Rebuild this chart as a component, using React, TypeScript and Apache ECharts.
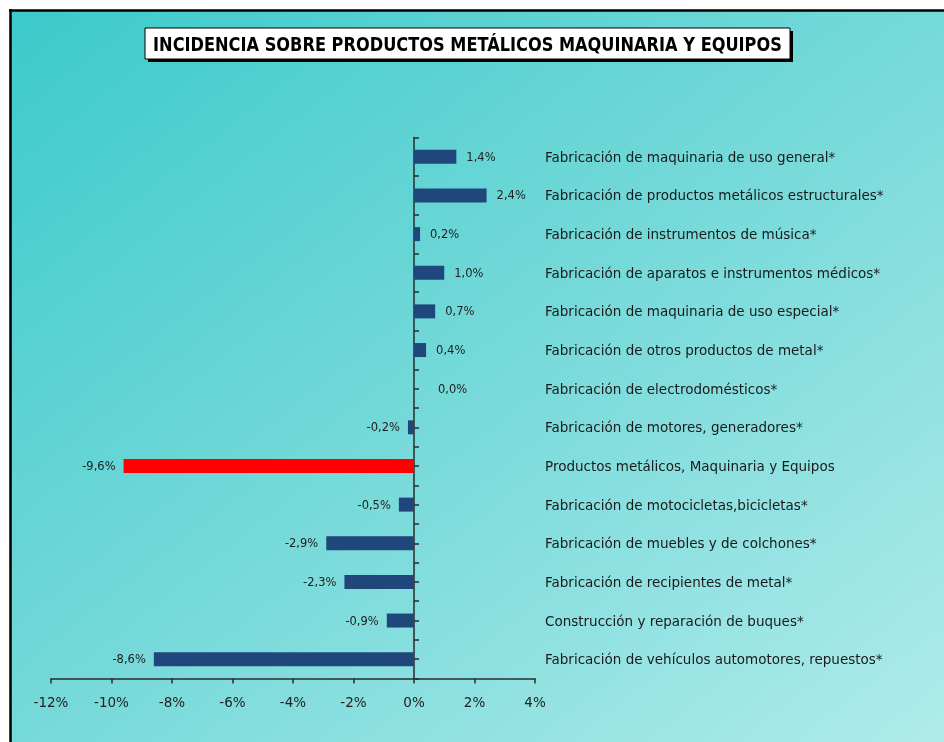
import React, { useEffect, useRef } from "react";
import * as echarts from "echarts";

const TITLE = "INCIDENCIA SOBRE PRODUCTOS METÁLICOS MAQUINARIA Y EQUIPOS";

const categories = [
  "Fabricación de maquinaria de uso general*",
  "Fabricación de productos metálicos estructurales*",
  "Fabricación de instrumentos de música*",
  "Fabricación de aparatos e instrumentos médicos*",
  "Fabricación de maquinaria de uso especial*",
  "Fabricación de otros productos de metal*",
  "Fabricación de electrodomésticos*",
  "Fabricación de motores, generadores*",
  "Productos metálicos, Maquinaria y Equipos",
  "Fabricación de motocicletas,bicicletas*",
  "Fabricación de muebles y de colchones*",
  "Fabricación de recipientes de metal*",
  "Construcción y reparación de buques*",
  "Fabricación de vehículos automotores, repuestos*",
];

const values = [1.4, 2.4, 0.2, 1.0, 0.7, 0.4, 0.0, -0.2, -9.6, -0.5, -2.9, -2.3, -0.9, -8.6];

const highlightCategory = "Productos metálicos, Maquinaria y Equipos";

const xMin = -12;
const xMax = 4;
const xInterval = 2;

const GRID_LEFT = 51;
const GRID_WIDTH = 484;
const GRID_TOP = 137.5;
const GRID_HEIGHT = 541;

const BAR_COLOR = "#1f477b";
const HIGHLIGHT_COLOR = "#ff0000";
const AXIS_COLOR = "#2b2b2b";
const FONT = "DejaVu Sans, Verdana, sans-serif";

const fmt = (v: number) => v.toFixed(1).replace(".", ",") + "%";

export default function App() {
  const ref = useRef<HTMLDivElement>(null);

  useEffect(() => {
    if (!ref.current) return;
    const chart = echarts.init(ref.current, null, { renderer: "svg" });
    const zeroOffset = ((0 - xMin) / (xMax - xMin)) * GRID_WIDTH;

    const seriesData = values.map((v, i) => ({
      value: v,
      itemStyle: { color: categories[i] === highlightCategory ? HIGHLIGHT_COLOR : BAR_COLOR },
      label: {
        position: v < 0 ? "left" : "right",
        distance: v === 0 ? 24 : v < 0 ? 8 : 10,
      },
    }));

    chart.setOption({
      animation: false,
      graphic: [
        {
          type: "rect",
          silent: true,
          z: -10,
          shape: { x: 10, y: 10, width: 934, height: 732 },
          style: {
            fill: new echarts.graphic.LinearGradient(0, 0, 1, 1, [
              { offset: 0, color: "#3ccaca" },
              { offset: 0.5, color: "#76d9d9" },
              { offset: 1, color: "#b0ebeb" },
            ]),
          },
        },
        {
          type: "line",
          silent: true,
          z: -9,
          shape: { x1: 9, y1: 10.5, x2: 944, y2: 10.5 },
          style: { stroke: "#000", lineWidth: 2.5 },
        },
        {
          type: "line",
          silent: true,
          z: -9,
          shape: { x1: 10.5, y1: 9, x2: 10.5, y2: 742 },
          style: { stroke: "#000", lineWidth: 2.5 },
        },
        {
          type: "rect",
          silent: true,
          z: 10,
          shape: { x: 148, y: 31, width: 645, height: 31 },
          style: { fill: "#000" },
        },
        {
          type: "rect",
          silent: true,
          z: 11,
          shape: { x: 145, y: 28, width: 645, height: 31 },
          style: { fill: "#fff", stroke: "#000", lineWidth: 1 },
        },
        {
          type: "text",
          silent: true,
          z: 12,
          x: 467.5,
          y: 44.5,
          scaleY: 1.12,
          style: {
            text: TITLE,
            fill: "#000",
            font: "bold 18px 'DejaVu Sans Condensed', 'Liberation Sans Narrow', sans-serif",
            align: "center",
            verticalAlign: "middle",
          },
        },
      ],
      grid: {
        left: GRID_LEFT,
        width: GRID_WIDTH,
        top: GRID_TOP,
        height: GRID_HEIGHT,
      },
      xAxis: {
        type: "value",
        min: xMin,
        max: xMax,
        interval: xInterval,
        splitLine: { show: false },
        axisLine: { show: true, lineStyle: { color: AXIS_COLOR, width: 1.5 } },
        axisTick: { show: true, length: 5, lineStyle: { color: AXIS_COLOR, width: 1.5 } },
        axisLabel: {
          formatter: (v: number) => v + "%",
          color: "#222",
          fontSize: 13.5,
          fontFamily: FONT,
          margin: 16,
        },
      },
      yAxis: [
        {
          type: "category",
          data: categories,
          inverse: true,
          position: "left",
          offset: -zeroOffset,
          axisLine: { show: true, onZero: false, lineStyle: { color: AXIS_COLOR, width: 1.5 } },
          axisTick: { show: true, inside: true, length: 5, lineStyle: { color: AXIS_COLOR, width: 1.5 } },
          axisLabel: { show: false },
          splitLine: { show: false },
        },
        {
          type: "category",
          data: categories,
          inverse: true,
          position: "left",
          offset: -zeroOffset,
          axisLine: { show: false, onZero: false },
          axisTick: {
            show: true,
            inside: true,
            alignWithLabel: true,
            length: 5,
            lineStyle: { color: AXIS_COLOR, width: 1.5 },
          },
          axisLabel: { show: false },
          splitLine: { show: false },
        },
        {
          type: "category",
          data: categories,
          inverse: true,
          position: "right",
          axisLine: { show: false, onZero: false },
          axisTick: { show: false },
          axisLabel: {
            color: "#1a1a1a",
            fontSize: 13.5,
            fontFamily: FONT,
            margin: 10,
            align: "left",
          },
          splitLine: { show: false },
        },
      ],
      series: [
        {
          type: "bar",
          yAxisIndex: 0,
          data: seriesData,
          barWidth: 14,
          z: 1,
          label: {
            show: true,
            formatter: (p: any) => fmt(p.value),
            color: "#222",
            fontSize: 11.5,
            fontFamily: FONT,
          },
        },
      ],
    });

    return () => chart.dispose();
  }, []);

  return (
    <div
      ref={ref}
      style={{ position: "fixed", left: 0, top: 0, width: 944, height: 742 }}
    />
  );
}
